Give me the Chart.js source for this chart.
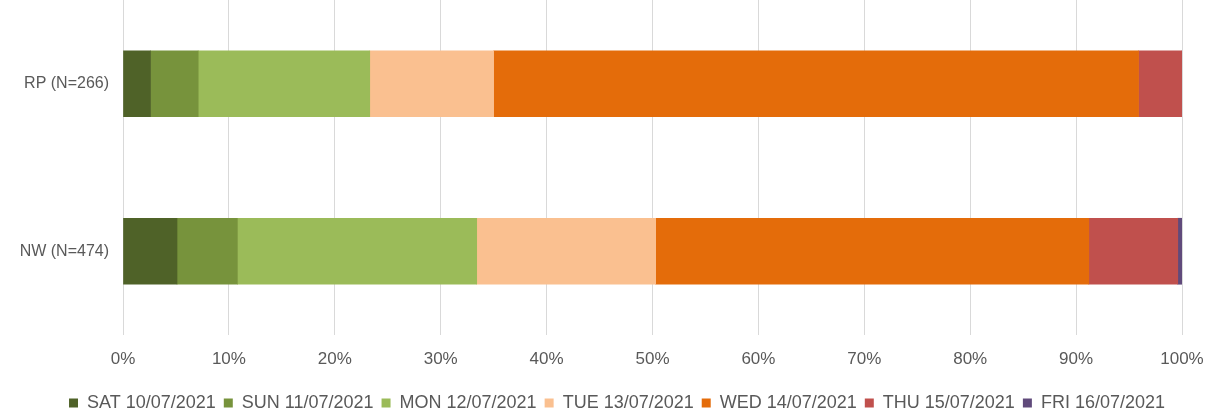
<!DOCTYPE html>
<html>
<head>
<meta charset="utf-8">
<script src="https://cdn.jsdelivr.net/npm/chart.js@4/dist/chart.umd.min.js"></script>
<style>
  body { margin: 0; background: #fff; }
  #wrap { width: 1220px; height: 419px; }
</style>
</head>
<body>
<div id="wrap"><canvas id="dayChart" width="1220" height="419"></canvas></div>
<script>
// ---- data (share of responses per day, %) ----
const groups = ["RP (N=266)", "NW (N=474)"];
const days = ["SAT 10/07/2021", "SUN 11/07/2021", "MON 12/07/2021", "TUE 13/07/2021",
              "WED 14/07/2021", "THU 15/07/2021", "FRI 16/07/2021"];
const sat = [2.6, 5.1];
const sun = [4.5, 5.7];
const mon = [16.2, 22.6];
const tue = [11.7, 16.9];
const wed = [60.9, 40.9];
const thu = [4.1, 8.4];
const fri = [0.0, 0.5];
const xTicks = [0, 10, 20, 30, 40, 50, 60, 70, 80, 90, 100];

const dayColors = ["#4f6228", "#77933c", "#9bbb59", "#fac090", "#e46c0a", "#c0504d", "#604a7b"];
const seriesValues = [sat, sun, mon, tue, wed, thu, fri];

const grey = "#595959";
const fontFamily = "'Liberation Sans', Arial, sans-serif";

new Chart(document.getElementById("dayChart"), {
    type: "bar",
    data: {
        labels: groups,
        datasets: days.map((d, i) => ({
            label: d,
            data: seriesValues[i],
            backgroundColor: dayColors[i],
            borderWidth: 0,
            barThickness: 66
        }))
    },
    options: {
        indexAxis: "y",
        responsive: false,
        animation: false,
        layout: { padding: { top: 0, right: 0, bottom: -3, left: 14 } },
        scales: {
            x: {
                stacked: true,
                min: 0,
                max: 100,
                afterBuildTicks: s => { s.ticks = xTicks.map(v => ({ value: v })); },
                afterFit: s => { s.height = 51; },
                ticks: {
                    color: grey,
                    padding: 14,
                    font: { family: fontFamily, size: 17 },
                    callback: v => v + "%"
                },
                grid: { color: "#d9d9d9", drawTicks: false },
                border: { display: false }
            },
            y: {
                stacked: true,
                afterFit: s => { s.width = 109; s.paddingTop = 0; s.paddingBottom = 0; },
                ticks: {
                    color: grey,
                    padding: 14,
                    font: { family: fontFamily, size: 16 }
                },
                grid: { display: false, drawTicks: false },
                border: { display: false }
            },
            // empty right-hand axis, only keeps room on the right of the plot
            yRight: {
                type: "category",
                position: "right",
                afterFit: s => { s.width = 38; s.paddingTop = 0; s.paddingBottom = 0; },
                ticks: { display: false },
                grid: { display: false, drawTicks: false },
                border: { display: false }
            }
        },
        plugins: {
            legend: {
                position: "bottom",
                labels: {
                    color: grey,
                    boxWidth: 9,
                    boxHeight: 9,
                    padding: 8,
                    font: { family: fontFamily, size: 18 }
                }
            },
            tooltip: { enabled: false }
        }
    }
});
</script>
</body>
</html>
